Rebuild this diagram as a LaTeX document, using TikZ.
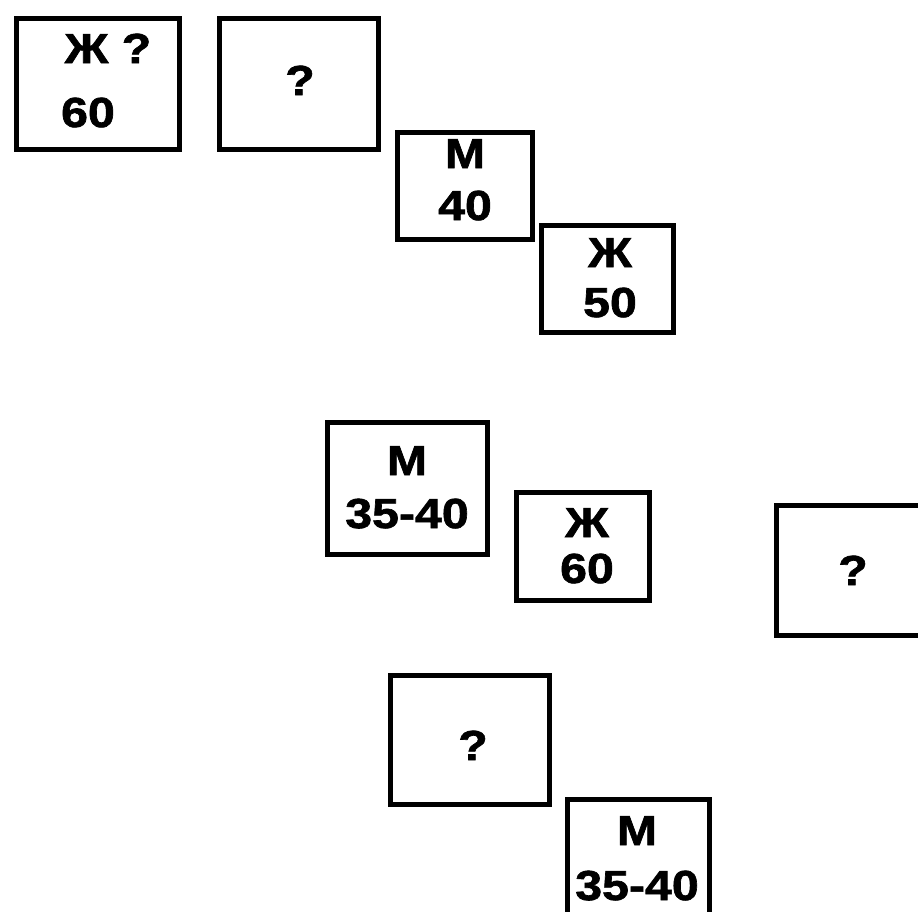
\documentclass[tikz,border=0pt]{standalone}
\usepackage{fontspec}
\setmainfont{Liberation Sans}[FakeStretch=1.15,BoldFeatures={FakeBold=1.6}]
\begin{document}
\begin{tikzpicture}[x=1pt,y=-1pt,
  card/.style={draw=black,line width=5pt,rectangle,inner sep=0pt,outer sep=0pt,fill=white},
  lbl/.style={anchor=base,inner sep=0pt,font=\bfseries\fontsize{42}{50}\selectfont}]
\useasboundingbox (0,0) rectangle (918,911);
\clip (0,0) rectangle (918,911);
\fill[white] (0,0) rectangle (918,911);
% boxes
\node[card,minimum width=163pt,minimum height=131pt] (b1) at (98,84) {};
\node[card,minimum width=159pt,minimum height=131pt] (b2) at (299,84) {};
\node[card,minimum width=135pt,minimum height=107pt] (b3) at (465,186) {};
\node[card,minimum width=132pt,minimum height=107pt] (b4) at (607.5,279) {};
\node[card,minimum width=160pt,minimum height=132pt] (b5) at (407.5,488.5) {};
\node[card,minimum width=133pt,minimum height=108pt] (b6) at (583,546.5) {};
\node[card,minimum width=155pt,minimum height=130pt] (b7) at (854,570.5) {};
\node[card,minimum width=159pt,minimum height=129pt] (b8) at (470,740) {};
\node[card,minimum width=142pt,minimum height=125pt] (b9) at (638.5,862) {};
% texts
\node[lbl] (t1a) at (108,63) {Ж ?};
\node[lbl] (t1b) at (88,127) {60};
\node[lbl] (t2) at (300,95) {?};
\node[lbl] (t3a) at (465,168) {М};
\node[lbl] (t3b) at (465,220) {40};
\node[lbl] (t4a) at (610,267) {Ж};
\node[lbl] (t4b) at (610,317) {50};
\node[lbl] (t5a) at (407,475) {М};
\node[lbl] (t5b) at (407,528) {35-40};
\node[lbl] (t6a) at (587,537) {Ж};
\node[lbl] (t6b) at (587,583) {60};
\node[lbl] (t7) at (853,585) {?};
\node[lbl] (t8) at (473,760) {?};
\node[lbl] (t9a) at (637,845) {М};
\node[lbl] (t9b) at (637,900) {35-40};
\end{tikzpicture}
\end{document}
